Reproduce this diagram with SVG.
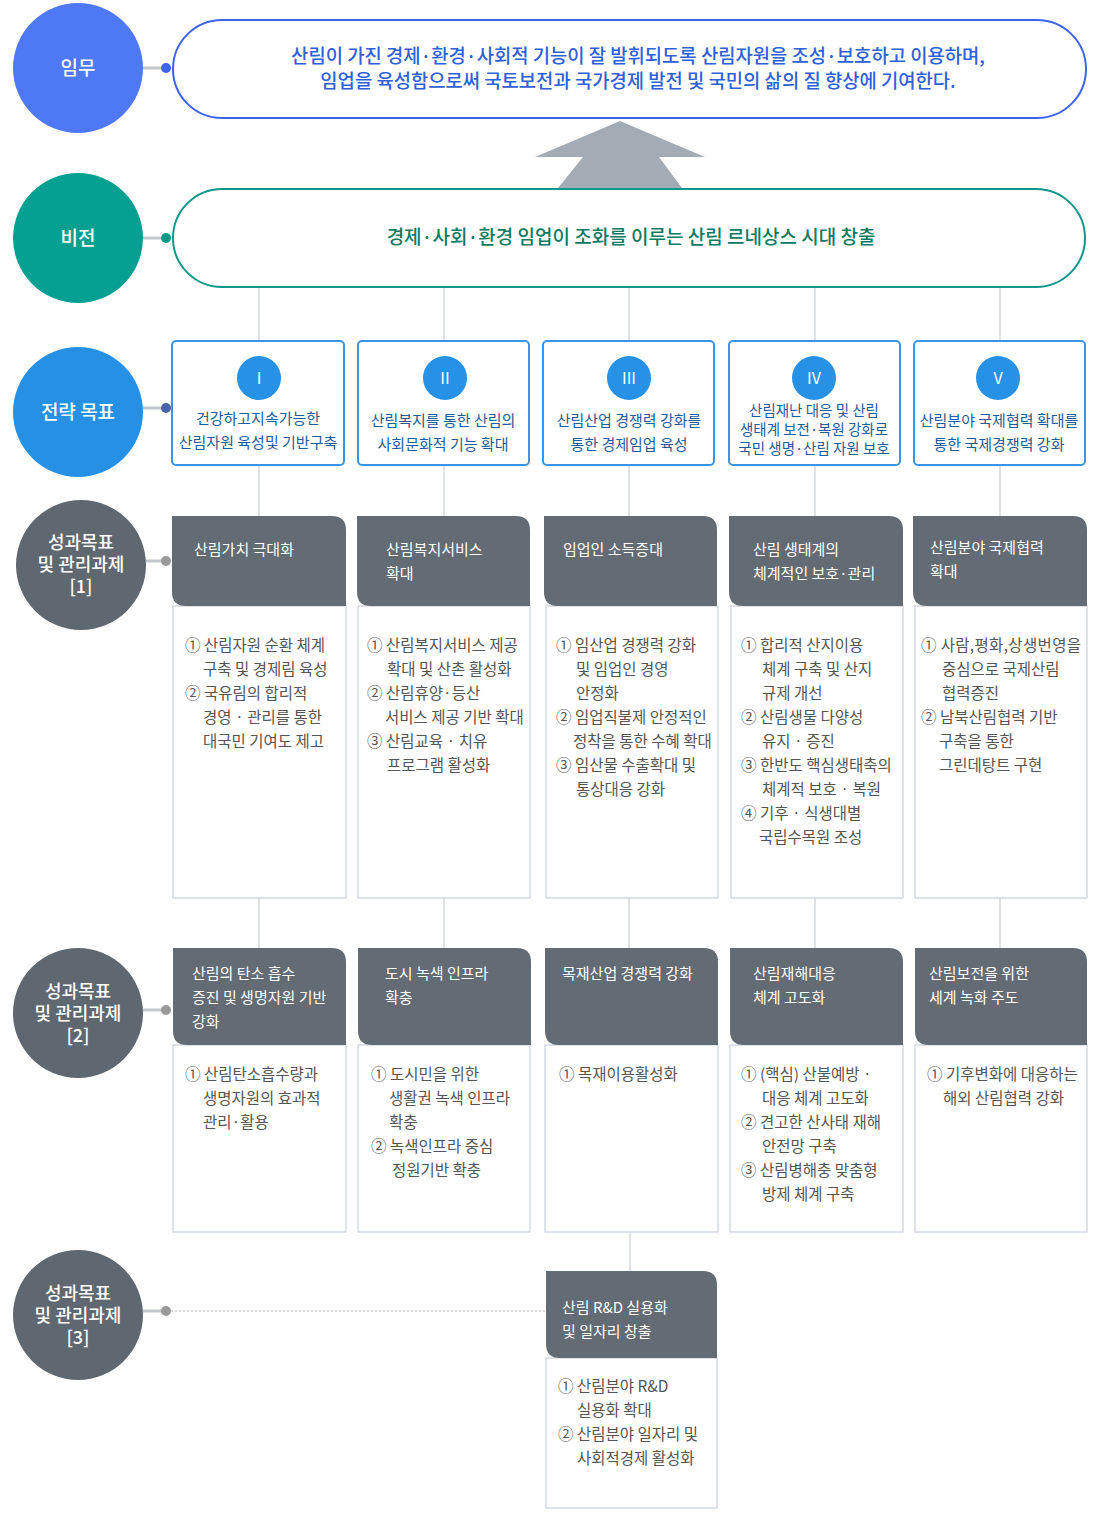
<svg xmlns="http://www.w3.org/2000/svg" width="1096" height="1525" viewBox="0 0 1096 1525">
<style>
text{font-family:"Noto Sans CJK KR","Noto Sans",sans-serif}
.ct{fill:#fff;font-size:19px;font-weight:500;text-anchor:middle}
.ct2{fill:#fff;font-size:18px;font-weight:500;text-anchor:middle}
.sb{fill:#fff;stroke:#3a95e8;stroke-width:2}
.st{fill:#1f5b98;font-size:15px;text-anchor:middle}
.num{fill:#fff;font-size:16px;text-anchor:middle}
.hd{fill:#636b74}
.ht{fill:#fff;font-size:15px}
.bd{fill:#fff;stroke:#c9d0de;stroke-width:1.2}
.bt{fill:#555;font-size:15.5px}
.ln{stroke:#ccd0d6;stroke-width:1.2;fill:none}
</style>
<g id="connectors">
<path class="ln" d="M259 287V341M444 287V341M629 287V341M815 287V341M1000 287V341"/>
<path class="ln" d="M259 465V516M444 465V516M629 465V516M815 465V516M1000 465V516"/>
<path class="ln" d="M259 898V948M444 898V948M629 898V948M815 898V948M1000 898V948M630 1232V1271"/>
<path d="M143 68H166M143 238H166M143 408H166M146 561H166M143 1010H166M143 1311H166" stroke="#c4c8cc" stroke-width="3"/>
<circle cx="166" cy="68" r="5" fill="#3f63e8"/>
<circle cx="166" cy="238" r="5" fill="#11978a"/>
<circle cx="166" cy="408" r="5" fill="#4a62aa"/>
<circle cx="166" cy="561" r="5" fill="#9a9a9a"/>
<circle cx="166" cy="1010" r="5" fill="#9a9a9a"/>
<circle cx="166" cy="1311" r="5" fill="#9a9a9a"/>
<path d="M171 1311H546" stroke="#b5b8bc" stroke-width="1" stroke-dasharray="2 2"/>
<polygon points="620,121 705,157 659,157 682,188 558,188 583,157 535,157" fill="#a3acb4"/>
</g>
<g id="labels">
<circle cx="78" cy="68" r="65" fill="#4f78f5"/><text class="ct" x="78" y="75">임무</text>
<circle cx="78" cy="238" r="65" fill="#05a092"/><text class="ct" x="78" y="245">비전</text>
<circle cx="78" cy="412" r="65" fill="#2690e5"/><text class="ct" x="78" y="419">전략 목표</text>
<circle cx="81" cy="565" r="65" fill="#5f6770"/><text class="ct2" x="81" y="549">성과목표</text><text class="ct2" x="81" y="571">및 관리과제</text><text class="ct2" x="81" y="593">[1]</text>
<circle cx="78" cy="1013" r="65" fill="#5f6770"/><text class="ct2" x="78" y="998">성과목표</text><text class="ct2" x="78" y="1020">및 관리과제</text><text class="ct2" x="78" y="1042">[2]</text>
<circle cx="78" cy="1315" r="65" fill="#5f6770"/><text class="ct2" x="78" y="1300">성과목표</text><text class="ct2" x="78" y="1322">및 관리과제</text><text class="ct2" x="78" y="1344">[3]</text>
</g>
<g id="mission">
<rect x="173" y="20" width="913" height="98" rx="49" fill="#fff" stroke="#3f63e8" stroke-width="2"/>
<text x="638" y="63" fill="#2f60d8" font-size="18.8" font-weight="500" text-anchor="middle">산림이 가진 경제·환경·사회적 기능이 잘 발휘되도록 산림자원을 조성·보호하고 이용하며,</text>
<text x="638" y="88" fill="#2f60d8" font-size="18.8" font-weight="500" text-anchor="middle">임업을 육성함으로써 국토보전과 국가경제 발전 및 국민의 삶의 질 향상에 기여한다.</text>
</g>
<g id="vision">
<rect x="173" y="189" width="912" height="98" rx="49" fill="#fff" stroke="#11978a" stroke-width="2"/>
<text x="631" y="244" fill="#0b7a63" font-size="19" font-weight="500" text-anchor="middle">경제·사회·환경 임업이 조화를 이루는 산림 르네상스 시대 창출</text>
</g>
<g id="goal1"><rect class="sb" x="172" y="341" width="172" height="124" rx="4"/><circle cx="259" cy="378" r="22" fill="#2791e6"/><text class="num" x="259" y="384">I</text><text class="st" x="258" y="424">건강하고지속가능한</text><text class="st" x="258" y="448">산림자원 육성및 기반구축</text></g>
<g id="goal2"><rect class="sb" x="358" y="341" width="171" height="124" rx="4"/><circle cx="445" cy="378" r="22" fill="#2791e6"/><text class="num" x="445" y="384">II</text><text class="st" x="443" y="426">산림복지를 통한 산림의</text><text class="st" x="443" y="450">사회문화적 기능 확대</text></g>
<g id="goal3"><rect class="sb" x="543" y="341" width="171" height="124" rx="4"/><circle cx="629" cy="378" r="22" fill="#2791e6"/><text class="num" x="629" y="384">III</text><text class="st" x="629" y="426">산림산업 경쟁력 강화를</text><text class="st" x="629" y="450">통한 경제임업 육성</text></g>
<g id="goal4"><rect class="sb" x="729" y="341" width="171" height="124" rx="4"/><circle cx="814" cy="378" r="22" fill="#2791e6"/><text class="num" x="814" y="384">IV</text><text class="st" x="814" y="416" style="font-size:14.5px">산림재난 대응 및 산림</text><text class="st" x="814" y="435" style="font-size:14.5px">생태계 보전·복원 강화로</text><text class="st" x="814" y="454" style="font-size:14.5px">국민 생명·산림 자원 보호</text></g>
<g id="goal5"><rect class="sb" x="914" y="341" width="171" height="124" rx="4"/><circle cx="998" cy="378" r="22" fill="#2791e6"/><text class="num" x="998" y="384">V</text><text class="st" x="999" y="426">산림분야 국제협력 확대를</text><text class="st" x="999" y="450">통한 국제경쟁력 강화</text></g>

<g id="p1-1"><rect class="bd" x="173" y="606" width="173" height="292"/><path class="hd" d="M172 516H332Q346 516 346 530V606H186Q172 606 172 592Z"/><text class="ht" x="194" y="555">산림가치 극대화</text>
<text class="bt" x="185" y="651">① 산림자원 순환 체계</text><text class="bt" x="203" y="675">구축 및 경제림 육성</text><text class="bt" x="185" y="699">② 국유림의 합리적</text><text class="bt" x="203" y="723">경영 · 관리를 통한</text><text class="bt" x="203" y="747">대국민 기여도 제고</text></g>
<g id="p1-2"><rect class="bd" x="358" y="606" width="172" height="292"/><path class="hd" d="M357 516H516Q530 516 530 530V606H371Q357 606 357 592Z"/><text class="ht" x="386" y="555">산림복지서비스</text><text class="ht" x="386" y="579">확대</text>
<text class="bt" x="367" y="651">① 산림복지서비스 제공</text><text class="bt" x="387" y="675">확대 및 산촌 활성화</text><text class="bt" x="367" y="699">② 산림휴양·등산</text><text class="bt" x="385" y="723">서비스 제공 기반 확대</text><text class="bt" x="367" y="747">③ 산림교육 · 치유</text><text class="bt" x="387" y="771">프로그램 활성화</text></g>
<g id="p1-3"><rect class="bd" x="546" y="606" width="172" height="292"/><path class="hd" d="M544 516H703Q717 516 717 530V606H558Q544 606 544 592Z"/><text class="ht" x="563" y="555">임업인 소득증대</text>
<text class="bt" x="556" y="651">① 임산업 경쟁력 강화</text><text class="bt" x="576" y="675">및 임업인 경영</text><text class="bt" x="576" y="699">안정화</text><text class="bt" x="556" y="723">② 임업직불제 안정적인</text><text class="bt" x="573" y="747">정착을 통한 수혜 확대</text><text class="bt" x="556" y="771">③ 임산물 수출확대 및</text><text class="bt" x="576" y="795">통상대응 강화</text></g>
<g id="p1-4"><rect class="bd" x="731" y="606" width="172" height="292"/><path class="hd" d="M729 516H889Q903 516 903 530V606H743Q729 606 729 592Z"/><text class="ht" x="753" y="555">산림 생태계의</text><text class="ht" x="753" y="579">체계적인 보호·관리</text>
<text class="bt" x="741" y="651">① 합리적 산지이용</text><text class="bt" x="762" y="675">체계 구축 및 산지</text><text class="bt" x="762" y="699">규제 개선</text><text class="bt" x="741" y="723">② 산림생물 다양성</text><text class="bt" x="762" y="747">유지 · 증진</text><text class="bt" x="741" y="771">③ 한반도 핵심생태축의</text><text class="bt" x="762" y="795">체계적 보호 · 복원</text><text class="bt" x="741" y="819">④ 기후 · 식생대별</text><text class="bt" x="759" y="843">국립수목원 조성</text></g>
<g id="p1-5"><rect class="bd" x="915" y="606" width="172" height="292"/><path class="hd" d="M913 516H1073Q1087 516 1087 530V606H927Q913 606 913 592Z"/><text class="ht" x="930" y="553">산림분야 국제협력</text><text class="ht" x="930" y="577">확대</text>
<text class="bt" x="921" y="651" textLength="160">① 사람,평화,상생번영을</text><text class="bt" x="942" y="675">중심으로 국제산림</text><text class="bt" x="942" y="699">협력증진</text><text class="bt" x="921" y="723">② 남북산림협력 기반</text><text class="bt" x="939" y="747">구축을 통한</text><text class="bt" x="939" y="771">그린데탕트 구현</text></g>

<g id="p2-1"><rect class="bd" x="173" y="1045" width="173" height="187"/><path class="hd" d="M173 948H332Q346 948 346 962V1045H187Q173 1045 173 1031Z"/><text class="ht" x="192" y="979">산림의 탄소 흡수</text><text class="ht" x="192" y="1003">증진 및 생명자원 기반</text><text class="ht" x="192" y="1027">강화</text>
<text class="bt" x="185" y="1080">① 산림탄소흡수량과</text><text class="bt" x="203" y="1104">생명자원의 효과적</text><text class="bt" x="203" y="1128">관리·활용</text></g>
<g id="p2-2"><rect class="bd" x="358" y="1045" width="172" height="187"/><path class="hd" d="M358 948H517Q531 948 531 962V1045H372Q358 1045 358 1031Z"/><text class="ht" x="385" y="979">도시 녹색 인프라</text><text class="ht" x="385" y="1003">확충</text>
<text class="bt" x="371" y="1080">① 도시민을 위한</text><text class="bt" x="389" y="1104">생활권 녹색 인프라</text><text class="bt" x="389" y="1128">확충</text><text class="bt" x="371" y="1152">② 녹색인프라 중심</text><text class="bt" x="392" y="1176">정원기반 확충</text></g>
<g id="p2-3"><rect class="bd" x="545" y="1045" width="173" height="187"/><path class="hd" d="M545 948H704Q718 948 718 962V1045H559Q545 1045 545 1031Z"/><text class="ht" x="562" y="979">목재산업 경쟁력 강화</text>
<text class="bt" x="559" y="1080">① 목재이용활성화</text></g>
<g id="p2-4"><rect class="bd" x="730" y="1045" width="173" height="187"/><path class="hd" d="M730 948H889Q903 948 903 962V1045H744Q730 1045 730 1031Z"/><text class="ht" x="753" y="979">산림재해대응</text><text class="ht" x="753" y="1003">체계 고도화</text>
<text class="bt" x="741" y="1080">① (핵심) 산불예방 ·</text><text class="bt" x="762" y="1104">대응 체계 고도화</text><text class="bt" x="741" y="1128">② 견고한 산사태 재해</text><text class="bt" x="762" y="1152">안전망 구축</text><text class="bt" x="741" y="1176">③ 산림병해충 맞춤형</text><text class="bt" x="762" y="1200">방제 체계 구축</text></g>
<g id="p2-5"><rect class="bd" x="915" y="1045" width="172" height="187"/><path class="hd" d="M915 948H1073Q1087 948 1087 962V1045H929Q915 1045 915 1031Z"/><text class="ht" x="929" y="979">산림보전을 위한</text><text class="ht" x="929" y="1003">세계 녹화 주도</text>
<text class="bt" x="927" y="1080">① 기후변화에 대응하는</text><text class="bt" x="943" y="1104">해외 산림협력 강화</text></g>

<g id="p3-1"><rect class="bd" x="546" y="1358" width="171" height="150"/><path class="hd" d="M546 1271H703Q717 1271 717 1285V1358H560Q546 1358 546 1344Z"/><text class="ht" x="562" y="1313">산림 R&amp;D 실용화</text><text class="ht" x="562" y="1337">및 일자리 창출</text>
<text class="bt" x="558" y="1392">① 산림분야 R&amp;D</text><text class="bt" x="577" y="1416">실용화 확대</text><text class="bt" x="558" y="1440">② 산림분야 일자리 및</text><text class="bt" x="577" y="1464">사회적경제 활성화</text></g>
</svg>
